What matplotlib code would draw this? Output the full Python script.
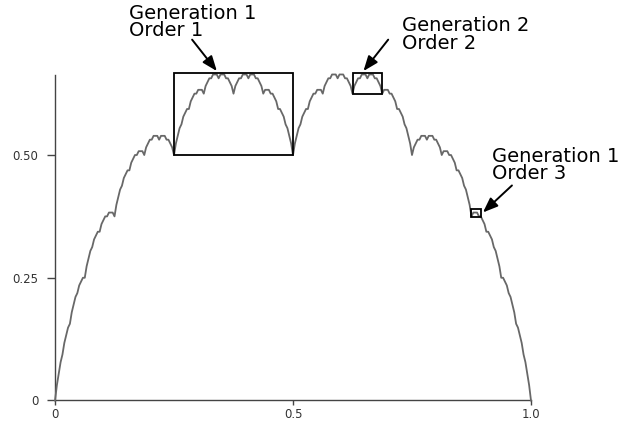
"""
Takagi / blancmange curve with self-similar boxes
"""
import numpy as np
import matplotlib
matplotlib.use("Agg")
import matplotlib.pyplot as plt
from matplotlib.patches import Rectangle

# curve heights at x = k/256, k = 0..256, in units of 1/256
heights_256 = [
    0, 8, 14, 20, 24, 30, 34, 38, 40, 46, 50, 54, 56, 60, 62, 64,
    64, 70, 74, 78, 80, 84, 86, 88, 88, 92, 94, 96, 96, 98, 98, 98,
    96, 102, 106, 110, 112, 116, 118, 120, 120, 124, 126, 128, 128, 130, 130, 130,
    128, 132, 134, 136, 136, 138, 138, 138, 136, 138, 138, 138, 136, 136, 134, 132,
    128, 134, 138, 142, 144, 148, 150, 152, 152, 156, 158, 160, 160, 162, 162, 162,
    160, 164, 166, 168, 168, 170, 170, 170, 168, 170, 170, 170, 168, 168, 166, 164,
    160, 164, 166, 168, 168, 170, 170, 170, 168, 170, 170, 170, 168, 168, 166, 164,
    160, 162, 162, 162, 160, 160, 158, 156, 152, 152, 150, 148, 144, 142, 138, 134,
    128,
    134, 138, 142, 144, 148, 150, 152, 152, 156, 158, 160, 160, 162, 162, 162, 160,
    164, 166, 168, 168, 170, 170, 170, 168, 170, 170, 170, 168, 168, 166, 164, 160,
    164, 166, 168, 168, 170, 170, 170, 168, 170, 170, 170, 168, 168, 166, 164, 160,
    162, 162, 162, 160, 160, 158, 156, 152, 152, 150, 148, 144, 142, 138, 134, 128,
    132, 134, 136, 136, 138, 138, 138, 136, 138, 138, 138, 136, 136, 134, 132, 128,
    130, 130, 130, 128, 128, 126, 124, 120, 120, 118, 116, 112, 110, 106, 102, 96,
    98, 98, 98, 96, 96, 94, 92, 88, 88, 86, 84, 80, 78, 74, 70, 64,
    64, 62, 60, 56, 54, 50, 46, 40, 38, 34, 30, 24, 20, 14, 8, 0]
x_vals = np.linspace(0, 1, len(heights_256))
y_vals = np.array(heights_256) / 256.0

xtick_vals = [0, 0.5, 1.0]
xtick_labels = ["0", "0.5", "1.0"]
ytick_vals = [0, 0.25, 0.5]
ytick_labels = ["0", "0.25", "0.50"]

# boxes: (x0, x1, y0, y1)
boxes = [(0.25, 0.5, 0.5, 0.667),
         (0.625, 0.6875, 0.625, 0.667),
         (0.874, 0.895, 0.374, 0.391)]
box_labels = ["Generation 1\nOrder 1", "Generation 2\nOrder 2", "Generation 1\nOrder 3"]
# label text position and arrow tail / tip (data coords)
label_pos = [(0.155, 0.808), (0.729, 0.783), (0.918, 0.517)]
arrow_tail = [(0.288, 0.735), (0.7, 0.735), (0.96, 0.438)]
arrow_tip = [(0.34, 0.671), (0.648, 0.671), (0.899, 0.383)]

fig = plt.figure(figsize=(6.31, 4.23), dpi=100)
ax = fig.add_axes([0.0872, 0.0532, 0.7543, 0.7695])

ax.plot(x_vals, y_vals, color="#686868", lw=1.3, clip_on=False, zorder=3)

for (x0, x1, y0, y1) in boxes:
    ax.add_patch(Rectangle((x0, y0), x1 - x0, y1 - y0, fill=False,
                           ec="black", lw=1.3, clip_on=False, zorder=4))

for txt, (tx, ty) in zip(box_labels, label_pos):
    ax.text(tx, ty, txt, fontsize=14, family="DejaVu Sans", va="top",
            ha="left", linespacing=0.9, clip_on=False)

for (x0, y0), (x1, y1) in zip(arrow_tail, arrow_tip):
    ax.annotate("", xy=(x1, y1), xytext=(x0, y0), annotation_clip=False,
                arrowprops=dict(arrowstyle="-|>,head_length=0.9,head_width=0.35",
                                color="black", lw=1.4, shrinkA=0, shrinkB=0))

ax.set_xlim(0, 1)
ax.set_ylim(0, 0.663)
ax.set_xticks(xtick_vals)
ax.set_xticklabels(xtick_labels)
ax.set_yticks(ytick_vals)
ax.set_yticklabels(ytick_labels)
ax.spines["top"].set_visible(False)
ax.spines["right"].set_visible(False)
for sp in ("left", "bottom"):
    ax.spines[sp].set_color("#444444")
    ax.spines[sp].set_linewidth(1.0)
ax.tick_params(axis="y", length=6, width=1, color="#444444", pad=6,
               labelsize=8.5, labelcolor="#333333")
ax.tick_params(axis="x", length=3.5, width=1, color="#444444", pad=2,
               labelsize=8.5, labelcolor="#333333")

fig.savefig("out.png", dpi=100)
